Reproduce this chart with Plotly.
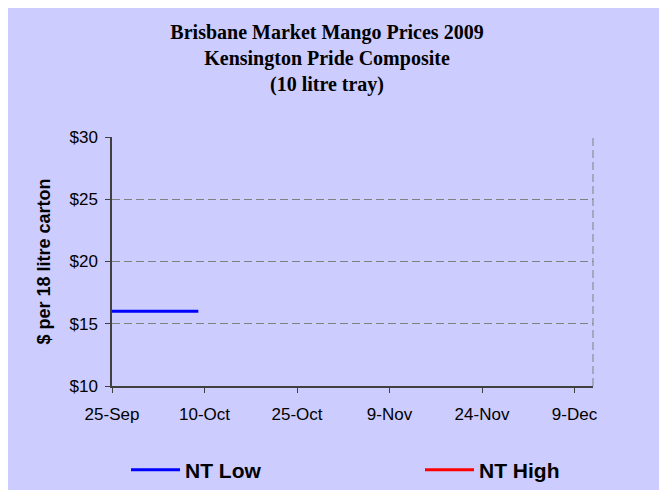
import plotly.graph_objects as go

# Data
nt_low_dates = ["2009-09-25", "2009-10-07", "2009-10-09"]
nt_low_prices = [16, 16, 16]
nt_high_dates = ["2009-09-25", "2009-10-07", "2009-10-09"]
nt_high_prices = [None, None, None]   # no NT High prices plotted

x_range = ["2009-09-25", "2009-12-12"]
y_range = [10, 30]

# page body has an 8px margin; positions below are in figure pixels
W, H = 667, 490
L, T = 104, 129
pw, ph = 481, 249
R, B = W - L - pw, H - T - ph

def px_to_paper_x(p):
    return (p - L) / pw

def px_to_paper_y(p):
    return (T + ph - p) / ph

fig = go.Figure()
fig.add_trace(go.Scatter(x=nt_low_dates, y=nt_low_prices, mode="lines",
                         name="<b>NT Low</b>", line=dict(color="#0000FF", width=3),
                         legendwidth=230))
fig.add_trace(go.Scatter(x=nt_high_dates, y=nt_high_prices, mode="lines",
                         name="<b>NT High</b>", line=dict(color="#FF0000", width=3),
                         legendwidth=100))

lav = "#CCCCFF"
axis_col = "#404040"

fig.update_layout(
    width=W, height=H,
    margin=dict(l=L, r=R, t=T, b=B, autoexpand=False),
    paper_bgcolor="white",
    plot_bgcolor="rgba(0,0,0,0)",
    font=dict(family="Arial, Liberation Sans, sans-serif", size=17, color="black"),
    title=dict(
        text="Brisbane Market Mango Prices 2009<br>Kensington Pride Composite<br>(10 litre tray)",
        font=dict(family="Liberation Serif, Times New Roman, serif", size=20, color="black", weight="bold"),
        x=319 / W, xanchor="center", xref="container",
        y=1 - 31 / H, yanchor="top", yref="container",
    ),
    showlegend=True,
    legend=dict(
        orientation="h", x=px_to_paper_x(118), xanchor="left",
        y=px_to_paper_y(462), yanchor="middle",
        font=dict(size=21, color="black"), bgcolor="rgba(0,0,0,0)",
        entrywidthmode="pixels", itemwidth=49,
    ),
    shapes=[
        dict(type="rect", xref="paper", yref="paper",
             x0=px_to_paper_x(-3), x1=px_to_paper_x(690),
             y0=px_to_paper_y(520), y1=px_to_paper_y(-2),
             fillcolor=lav, line=dict(color="black", width=2), layer="below"),
        dict(type="line", xref="paper", yref="paper", x0=1, x1=1, y0=0, y1=1,
             line=dict(color="#808080", width=1, dash="8px,4px"), layer="below"),
    ],
)

fig.update_xaxes(
    type="date", range=x_range, tick0="2009-09-25", dtick=15 * 86400000,
    tickformat="%-d-%b", showgrid=False, zeroline=False,
    showline=True, linecolor=axis_col, linewidth=1.5,
    ticks="outside", ticklen=5, tickcolor=axis_col, tickwidth=1,
    tickfont=dict(size=17, color="black"), ticklabelstandoff=7,
)
fig.update_yaxes(
    range=y_range, dtick=5, tickprefix="$", showgrid=True,
    gridcolor="#808080", gridwidth=1, griddash="8px,4px", zeroline=False,
    showline=True, linecolor=axis_col, linewidth=1.5,
    ticks="outside", ticklen=5, tickcolor=axis_col, tickwidth=1,
    tickfont=dict(size=17, color="black"), ticklabelstandoff=4,
    title=dict(text="<b>$ per 18 litre carton</b>", font=dict(size=18, color="black"), standoff=14),
)

fig.write_html("out.html")
